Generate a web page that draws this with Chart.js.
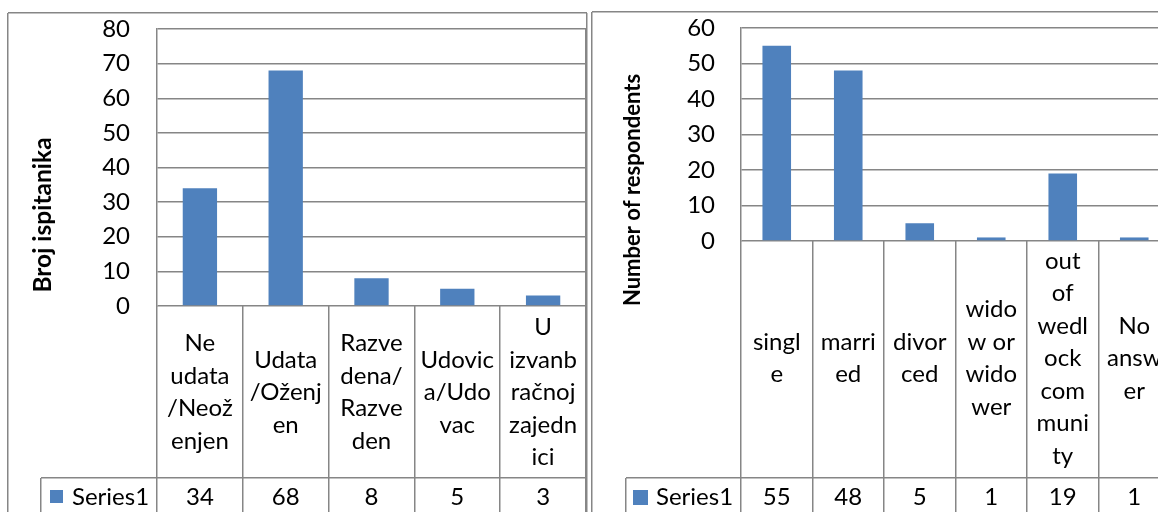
<!DOCTYPE html>
<html><head><meta charset="utf-8">
<script src="https://cdn.jsdelivr.net/npm/chart.js@4/dist/chart.umd.min.js"></script>
<style>
html,body{margin:0;padding:0;background:#fff;overflow:hidden;width:1158px;height:512px}
#wrap{position:relative;width:1158px;height:512px;overflow:hidden;background:#fff}
#c1{position:absolute;left:0;top:0}
#c2{position:absolute;left:590px;top:0}
</style></head>
<body><div id="wrap"><canvas id="c1" width="590" height="512"></canvas><canvas id="c2" width="600" height="512"></canvas></div>
<script>
// ---- data ----
const leftCategories = [["Ne","udata","/Neož","enjen"],["Udata","/Oženj","en"],["Razve","dena/","Razve","den"],["Udovic","a/Udo","vac"],["U","izvanb","račnoj","zajedn","ici"]];
const leftValues = [34, 68, 8, 5, 3];
const leftAxisTitle = "Broj ispitanika";
const leftYMax = 80;

const rightCategories = [["singl","e"],["marri","ed"],["divor","ced"],["wido","w or","wido","wer"],["out","of","wedl","ock","com","muni","ty"],["No","answ","er"]];
const rightValues = [55, 48, 5, 1, 19, 1];
const rightAxisTitle = "Number of respondents";
const rightYMax = 60;

const yStep = 10;
const seriesName = "Series1";

// ---- styles ----
const BAR = '#4F81BD';
const GRID = '#868686';
const FONT = 'Lato';
const FS = 24;
const LH = 32.5;

function hLine(ctx, x1, x2, y){ const yy = Math.round(y - 0.75) + 0.75; ctx.beginPath(); ctx.moveTo(x1, yy); ctx.lineTo(x2, yy); ctx.stroke(); }
function vLine(ctx, x, y1, y2){ const xx = Math.round(x - 0.75) + 0.75; ctx.beginPath(); ctx.moveTo(xx, y1); ctx.lineTo(xx, y2); ctx.stroke(); }

function tablePlugin(L){
  return {
    id: 'excelTable',
    afterDraw(chart){
      const ctx = chart.ctx, a = chart.chartArea, xs = chart.scales.x, H = chart.height;
      const n = chart.data.labels.length;
      const half = (xs.getPixelForValue(1) - xs.getPixelForValue(0)) / 2;
      ctx.save();
      ctx.strokeStyle = GRID; ctx.lineWidth = 1.5;
      // outer chart border
      vLine(ctx, L.borderX, L.borderY, H + 10);
      hLine(ctx, L.borderX, L.borderRight, L.borderY);
      if (L.borderRight < chart.width) vLine(ctx, L.borderRight, L.borderY, H + 10);
      // plot right border
      vLine(ctx, a.right, a.top, H + 10);
      // table verticals
      for (let i = 0; i <= n; i++) {
        const x = i < n ? xs.getPixelForValue(i) - half : xs.getPixelForValue(n - 1) + half;
        vLine(ctx, x, a.bottom, H + 10);
      }
      // series row
      hLine(ctx, L.legendLeft, a.right, L.rowTop);
      vLine(ctx, L.legendLeft, L.rowTop, H + 10);
      // category text
      ctx.fillStyle = '#000';
      ctx.font = FS + 'px ' + FONT;
      ctx.textAlign = 'center'; ctx.textBaseline = 'alphabetic';
      for (let i = 0; i < n; i++) {
        const cx = xs.getPixelForValue(i);
        const lines = L.categories[i];
        const first = L.labelCenter - (lines.length - 1) / 2 * LH + 8;
        lines.forEach((t, k) => ctx.fillText(t, cx, first + k * LH));
        ctx.fillText(String(chart.data.datasets[0].data[i]), cx, L.valueBase);
      }
      // legend key
      ctx.fillStyle = BAR;
      ctx.fillRect(L.keyX, L.keyY, L.keySize, L.keySize);
      ctx.fillStyle = '#000';
      ctx.textAlign = 'left';
      ctx.fillText(chart.data.datasets[0].label, L.keyTextX, L.valueBase);
      // axis title
      ctx.save();
      ctx.translate(L.titleX, L.titleY);
      ctx.rotate(-Math.PI / 2);
      ctx.font = 'bold ' + L.titleSize + 'px ' + FONT;
      ctx.textAlign = 'center';
      ctx.fillText(L.title, 0, 0);
      ctx.restore();
      ctx.restore();
    }
  };
}

function makeChart(canvas, L){
  return new Chart(canvas, {
    type: 'bar',
    data: {
      labels: L.categories.map(l => l.join('')),
      datasets: [{ label: seriesName, data: L.values, backgroundColor: BAR, borderWidth: 0,
                   categoryPercentage: 1, barPercentage: 0.4 }]
    },
    options: {
      responsive: false, animation: false, devicePixelRatio: 1,
      layout: { padding: { top: L.top, right: canvas.width - L.right, bottom: canvas.height - L.bottom, left: 0 } },
      plugins: { legend: { display: false }, tooltip: { enabled: false }, title: { display: false } },
      scales: {
        x: { display: false, offset: true },
        y: {
          min: 0, max: L.max,
          ticks: { stepSize: yStep, padding: 0, color: '#000', font: { family: FONT, size: FS } },
          grid: { color: GRID, lineWidth: 1.5, drawTicks: true, tickLength: L.tickPad, tickColor: 'rgba(0,0,0,0)' },
          border: { display: true, color: GRID, width: 1.5 },
          afterFit(scale){ scale.width = L.left; }
        }
      }
    },
    plugins: [tablePlugin(L)]
  });
}

makeChart(document.getElementById('c1'), {
  categories: leftCategories, values: leftValues, title: leftAxisTitle, titleSize: 24.5, max: leftYMax,
  left: 157, right: 586, top: 29, bottom: 306, tickPad: 27,
  borderX: 8, borderY: 13, borderRight: 587,
  legendLeft: 41, rowTop: 478, labelCenter: 392, valueBase: 505,
  keyX: 50, keyY: 490, keySize: 13, keyTextX: 72,
  titleX: 51, titleY: 215
});

makeChart(document.getElementById('c2'), {
  categories: rightCategories, values: rightValues, title: rightAxisTitle, titleSize: 22, max: rightYMax,
  left: 151, right: 580, top: 28, bottom: 241, tickPad: 26,
  borderX: 2, borderY: 12, borderRight: 2000,
  legendLeft: 36, rowTop: 478, labelCenter: 358, valueBase: 505,
  keyX: 43, keyY: 490, keySize: 15, keyTextX: 66,
  titleX: 50, titleY: 190
});
</script>
</body></html>
